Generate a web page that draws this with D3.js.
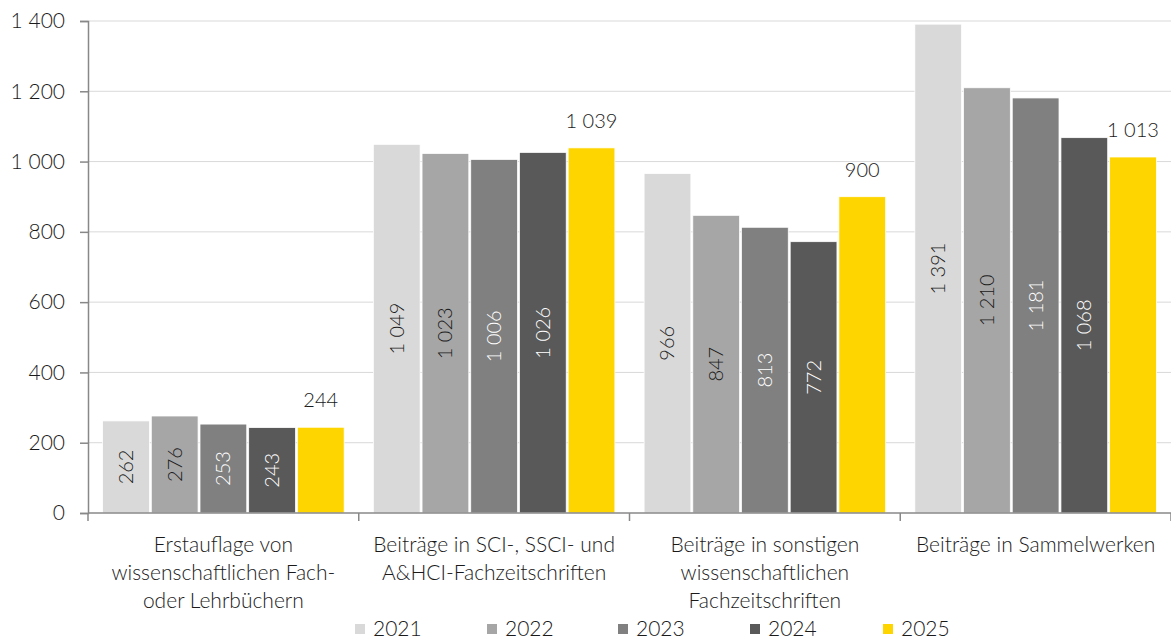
<!DOCTYPE html>
<html>
<head>
<meta charset="utf-8">
<script src="https://cdn.jsdelivr.net/npm/d3@7"></script>
<style>
  body { margin: 0; background: #fff; }
  text { font-family: Lato, "Open Sans", sans-serif; font-weight: 300; fill: #1a1a1a; }
</style>
</head>
<body>
<script>
// categories (x axis), one line per array entry
var categories = [
  ["Erstauflage von", "wissenschaftlichen Fach-", "oder Lehrbüchern"],
  ["Beiträge in SCI-, SSCI- und", "A&HCI-Fachzeitschriften"],
  ["Beiträge in sonstigen", "wissenschaftlichen", "Fachzeitschriften"],
  ["Beiträge in Sammelwerken"]
];
var years = ["2021", "2022", "2023", "2024", "2025"];
var colors = ["#d9d9d9", "#a6a6a6", "#808080", "#595959", "#ffd500"];
var labelColors = ["#1a1a1a", "#1a1a1a", "#fff", "#fff", "#1a1a1a"];

// values per year, one entry per category
var v2021 = [262, 1049, 966, 1391];
var v2022 = [276, 1023, 847, 1210];
var v2023 = [253, 1006, 813, 1181];
var v2024 = [243, 1026, 772, 1068];
var v2025 = [244, 1039, 900, 1013];
var series = [v2021, v2022, v2023, v2024, v2025];

var yTicks = [0, 200, 400, 600, 800, 1000, 1200, 1400];

var width = 1171, height = 639;
// plot area edges (note: "top" would clash with window.top)
var plotLeft = 88, plotRight = 1171, plotTop = 21, plotBottom = 513;

var fmt = function (n) {
  return d3.format(",")(n).replace(/,/g, " ");
};

var svg = d3.select("body").append("svg")
  .attr("width", width)
  .attr("height", height);

var y = d3.scaleLinear().domain([0, 1400]).range([plotBottom, plotTop]);
var x0 = d3.scaleBand().domain(d3.range(categories.length)).range([plotLeft, plotRight]);
var x1 = d3.scaleBand().domain(d3.range(years.length))
  .range([0, x0.bandwidth()]).paddingInner(0.04).paddingOuter(0.3);

// gridlines
svg.append("g").selectAll("line")
  .data(yTicks.slice(1))
  .enter().append("line")
  .attr("x1", plotLeft).attr("x2", plotRight)
  .attr("y1", function (d) { return y(d); })
  .attr("y2", function (d) { return y(d); })
  .attr("stroke", "#d9d9d9").attr("stroke-width", 1);

// y axis
var yAxis = svg.append("g")
  .attr("transform", "translate(" + plotLeft + ",0)")
  .call(d3.axisLeft(y).tickValues(yTicks).tickFormat(fmt).tickSize(8).tickPadding(15));
yAxis.select(".domain").attr("stroke", "#888").attr("stroke-width", 1.5);
yAxis.selectAll(".tick line").attr("stroke", "#888").attr("stroke-width", 1.5);
yAxis.selectAll("text").style("font-size", "21px").attr("fill", "#1a1a1a")
  .style("font-family", "Lato, 'Open Sans', sans-serif").style("font-weight", 300);

// bars
var groups = svg.append("g").selectAll("g")
  .data(categories)
  .enter().append("g")
  .attr("transform", function (d, i) { return "translate(" + x0(i) + ",0)"; });

groups.each(function (c, ci) {
  var g = d3.select(this);
  series.forEach(function (vals, si) {
    var v = vals[ci];
    var bx = x1(si), bw = x1.bandwidth();
    g.append("rect")
      .attr("x", bx).attr("width", bw)
      .attr("y", y(v)).attr("height", plotBottom - y(v))
      .attr("fill", colors[si])
      .attr("stroke", "#fff").attr("stroke-width", 0.75);
    if (si === years.length - 1) {
      g.append("text")
        .attr("x", bx + bw / 2).attr("y", y(v) - 20)
        .attr("text-anchor", "middle")
        .style("font-size", "20px")
        .text(fmt(v));
    } else {
      var cy = (y(v) + plotBottom) / 2;
      g.append("text")
        .attr("transform", "translate(" + (bx + bw / 2) + "," + cy + ") rotate(-90)")
        .attr("text-anchor", "middle")
        .attr("dy", "0.35em")
        .style("font-size", "20px")
        .style("fill", labelColors[si])
        .text(fmt(v));
    }
  });
});

// x axis
var xAxis = svg.append("g");
xAxis.append("line")
  .attr("x1", plotLeft).attr("x2", plotRight)
  .attr("y1", plotBottom).attr("y2", plotBottom)
  .attr("stroke", "#888").attr("stroke-width", 1.5);
xAxis.selectAll("line.tick")
  .data(d3.range(categories.length + 1))
  .enter().append("line")
  .attr("class", "tick")
  .attr("x1", function (d) { return plotLeft + d * x0.bandwidth(); })
  .attr("x2", function (d) { return plotLeft + d * x0.bandwidth(); })
  .attr("y1", plotBottom).attr("y2", plotBottom + 8)
  .attr("stroke", "#888").attr("stroke-width", 1.5);

xAxis.selectAll("text.cat")
  .data(categories)
  .enter().append("text")
  .attr("class", "cat")
  .attr("text-anchor", "middle")
  .attr("x", function (d, i) { return x0(i) + x0.bandwidth() / 2; })
  .attr("y", 552)
  .style("font-size", "21px")
  .each(function (lines) {
    var t = d3.select(this);
    lines.forEach(function (l, li) {
      t.append("tspan")
        .attr("x", t.attr("x"))
        .attr("dy", li === 0 ? 0 : 28)
        .text(l);
    });
  });

// legend
var legendX = [355, 487, 618, 750, 883];
var legend = svg.append("g").selectAll("g")
  .data(years)
  .enter().append("g")
  .attr("transform", function (d, i) { return "translate(" + legendX[i] + ",629)"; });
legend.append("rect")
  .attr("x", 0).attr("y", -5).attr("width", 10).attr("height", 10)
  .attr("fill", function (d, i) { return colors[i]; });
legend.append("text")
  .attr("x", 18).attr("dy", "0.35em")
  .style("font-size", "21px")
  .text(function (d) { return d; });
</script>
</body>
</html>
